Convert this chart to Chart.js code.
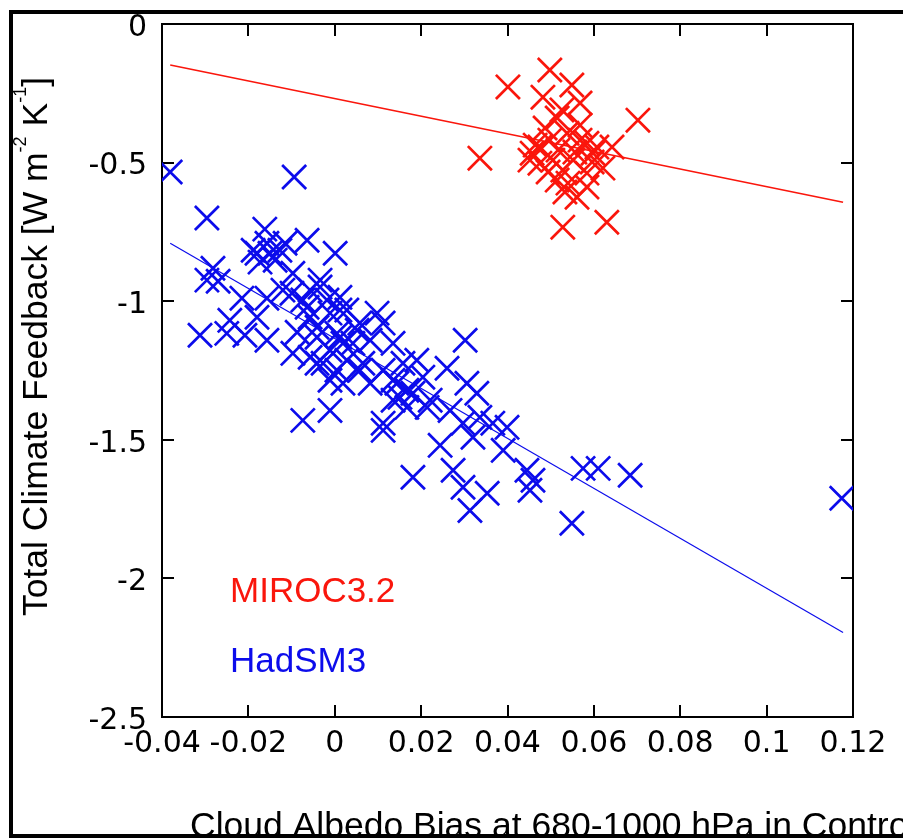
<!DOCTYPE html>
<html><head><meta charset="utf-8">
<script src="https://cdn.jsdelivr.net/npm/chart.js@4"></script>
<style>
html,body{margin:0;padding:0;background:#fff;overflow:hidden;}
#wrap{position:relative;width:903px;height:838px;overflow:hidden;}
canvas{position:absolute;left:0;top:0;}
#frame{position:absolute;left:9px;top:10px;width:1000px;height:828px;box-sizing:border-box;border:4px solid #000;pointer-events:none;}
</style></head>
<body><div id="wrap"><canvas id="c" width="903" height="838"></canvas><div id="frame"></div></div>
<script>
// ---- data ----
const xTickValues = [-0.04, -0.02, 0, 0.02, 0.04, 0.06, 0.08, 0.1, 0.12];
const xTickLabels = ['-0.04', '-0.02', '0', '0.02', '0.04', '0.06', '0.08', '0.1', '0.12'];
const yTickValues = [-2.5, -2, -1.5, -1, -0.5, 0];
const yTickLabels = ['-2.5', '-2', '-1.5', '-1', '-0.5', '0'];

const seriesNames = ['MIROC3.2', 'HadSM3'];
const xTitle = 'Cloud Albedo Bias at 680-1000 hPa in Control';
const yTitleParts = [['Total Climate Feedback [W m', false], ['-2', true], [' K', false], ['-1', true], [']', false]];

const mirocX = [0.0401, 0.0498, 0.0549, 0.0482, 0.0568, 0.0526, 0.0515, 0.0702, 0.0336, 0.0457,
                0.0475, 0.0498, 0.0538, 0.0568, 0.0584, 0.0607, 0.0642, 0.0475, 0.0505, 0.0528,
                0.0552, 0.0584, 0.0515, 0.0540, 0.0561, 0.0584, 0.0528, 0.0630, 0.0452, 0.0598,
                0.0487, 0.0517, 0.0556, 0.0494, 0.0596, 0.0621, 0.0464, 0.0533, 0.0568];
const mirocY = [-0.227, -0.166, -0.220, -0.264, -0.285, -0.310, -0.339, -0.347, -0.484, -0.466,
                -0.444, -0.419, -0.394, -0.419, -0.430, -0.444, -0.444, -0.502, -0.491, -0.527,
                -0.491, -0.538, -0.563, -0.574, -0.625, -0.588, -0.733, -0.715, -0.491, -0.466,
                -0.375, -0.455, -0.462, -0.534, -0.498, -0.520, -0.437, -0.606, -0.365];

const hadX = [-0.0381, -0.0094, -0.0296, -0.0162, -0.0064, -0.0115, -0.0189, -0.0180, -0.0150, -0.0127,
              0.0001, -0.0173, -0.0138, -0.0282, -0.0296, -0.0270, -0.0215, -0.0157, -0.0099, -0.0057,
              -0.0034, -0.0018, 0.0012, -0.0064, -0.0243, -0.0180, -0.0312, -0.0250, -0.0208, -0.0087,
              -0.0041, 0.0012, 0.0042, -0.0120, -0.0074, -0.0057, -0.0011, 0.0028, 0.0052, 0.0098,
              -0.0041, -0.0011, 0.0019, -0.0041, 0.0005, 0.0065, 0.0112, 0.0158, 0.0190, 0.0144,
              0.0181, 0.0167, 0.0221, -0.0074, -0.0011, 0.0112, 0.0244, -0.0157, -0.0034, -0.0097,
              0.0012, 0.0058, 0.0005, 0.0082, -0.0157, -0.0097, -0.0057, -0.0027, 0.0028, 0.0058,
              -0.0011, 0.0019, 0.0082, 0.0135, 0.0167, 0.0135, 0.0260, 0.0302, 0.0267, 0.0306,
              0.0329, 0.0135, 0.0112, 0.0204, 0.0151, 0.0214, 0.0297, 0.0336, 0.0366, 0.0399,
              0.0320, 0.0390, 0.0112, 0.0181, 0.0274, 0.0297, 0.0353, 0.0313, 0.0445, 0.0459,
              0.0452, 0.0575, 0.0610, 0.0684, 0.0549, 0.1174];
const hadY = [-0.534, -0.552, -0.700, -0.740, -0.780, -0.791, -0.816, -0.827, -0.827, -0.816,
              -0.827, -0.859, -0.852, -0.881, -0.924, -0.928, -0.989, -0.989, -0.971, -0.960,
              -0.949, -0.996, -0.986, -1.022, -1.069, -1.058, -1.123, -1.116, -1.123, -1.112,
              -1.094, -1.130, -1.152, -0.960, -0.996, -1.058, -1.043, -1.032, -1.105, -1.043,
              -1.130, -1.177, -1.152, -1.224, -1.249, -1.224, -1.249, -1.224, -1.213, -1.296,
              -1.332, -1.383, -1.357, -1.430, -1.394, -1.440, -1.520, -0.791, -0.924, -0.899,
              -1.032, -1.079, -1.116, -1.141, -1.141, -1.188, -1.202, -1.224, -1.213, -1.249,
              -1.285, -1.296, -1.296, -1.285, -1.321, -1.357, -1.242, -1.141, -1.394, -1.296,
              -1.332, -1.152, -1.079, -1.274, -1.347, -1.383, -1.440, -1.419, -1.440, -1.455,
              -1.491, -1.538, -1.466, -1.635, -1.610, -1.671, -1.693, -1.755, -1.610, -1.646,
              -1.682, -1.603, -1.603, -1.628, -1.801, -1.711];

const mirocFitX = [-0.0381, 0.1177];
const mirocFitY = [-0.148, -0.643];
const hadFitX = [-0.0381, 0.1177];
const hadFitY = [-0.791, -2.195];

// ---- styles ----
const RED = 'rgb(250,22,12)';
const BLUE = 'rgb(12,12,235)';
const tickFont = { family: '"DejaVu Sans", sans-serif', size: 30 };
const textFamily = '"Liberation Sans", Arial, Helvetica, sans-serif';

const pts = (xs, ys) => xs.map((x, i) => ({ x: x, y: ys[i] }));

const textPlugin = {
  id: 'texts',
  afterDraw(chart) {
    const ctx = chart.ctx;
    const a = chart.chartArea;
    ctx.save();
    ctx.fillStyle = '#000';
    ctx.textAlign = 'left';
    ctx.textBaseline = 'alphabetic';
    ctx.font = '35.5px ' + textFamily;
    ctx.fillText(xTitle, 190, 837);
    ctx.save();
    ctx.translate(47, 616);
    ctx.rotate(-Math.PI / 2);
    let pos = 0;
    yTitleParts.forEach(([t, sup]) => {
      ctx.font = (sup ? '18px ' : '35.5px ') + textFamily;
      ctx.fillText(t, pos, sup ? -21 : 0);
      pos += ctx.measureText(t).width;
    });
    ctx.restore();
    ctx.font = '35px ' + textFamily;
    ctx.fillStyle = RED;
    ctx.fillText(seriesNames[0], a.left + 68, 602);
    ctx.fillStyle = BLUE;
    ctx.fillText(seriesNames[1], a.left + 68, 672);
    ctx.restore();
  }
};

const noPad = s => { s.paddingTop = 0; s.paddingBottom = 0; s.paddingLeft = 0; s.paddingRight = 0; };

const axisCommon = (vals) => ({
  type: 'linear',
  afterBuildTicks: s => { s.ticks = vals.map(v => ({ value: v })); },
  grid: { drawOnChartArea: false, drawTicks: true, tickLength: -12, color: '#000', lineWidth: 2 },
  border: { color: '#000', width: 2 }
});

new Chart(document.getElementById('c'), {
  type: 'scatter',
  data: {
    datasets: [
      { label: seriesNames[0], data: pts(mirocX, mirocY), pointStyle: 'crossRot', pointRadius: 17,
        borderColor: RED, backgroundColor: 'rgba(0,0,0,0)', borderWidth: 2.7, pointBorderWidth: 2.7, showLine: false },
      { label: seriesNames[1], data: pts(hadX, hadY), pointStyle: 'crossRot', pointRadius: 17,
        borderColor: BLUE, backgroundColor: 'rgba(0,0,0,0)', borderWidth: 2.7, pointBorderWidth: 2.7, showLine: false },
      { label: seriesNames[0] + ' fit', data: pts(mirocFitX, mirocFitY), showLine: true, pointRadius: 0,
        borderColor: RED, borderWidth: 1.6, fill: false },
      { label: seriesNames[1] + ' fit', data: pts(hadFitX, hadFitY), showLine: true, pointRadius: 0,
        borderColor: BLUE, borderWidth: 1.2, fill: false }
    ]
  },
  options: {
    responsive: false,
    animation: false,
    devicePixelRatio: 1,
    layout: { padding: { left: 0, top: 24, right: 50, bottom: 0 } },
    plugins: { legend: { display: false }, tooltip: { enabled: false }, title: { display: false } },
    scales: {
      x: Object.assign(axisCommon(xTickValues), {
        position: 'bottom', min: -0.04, max: 0.12,
        ticks: { callback: (v, i) => xTickLabels[i], color: '#000', font: tickFont, padding: 21,
                 maxRotation: 0, autoSkip: false },
        afterFit: s => { s.height = 121; noPad(s); }
      }),
      x2: Object.assign(axisCommon(xTickValues), {
        position: 'top', min: -0.04, max: 0.12,
        ticks: { display: false },
        afterFit: s => { s.height = 0; noPad(s); }
      }),
      y: Object.assign(axisCommon(yTickValues), {
        position: 'left', min: -2.5, max: 0,
        ticks: { callback: (v, i) => yTickLabels[i], color: '#000', font: tickFont, padding: 27,
                 labelOffset: 4, autoSkip: false },
        afterFit: s => { s.width = 162; noPad(s); }
      }),
      y2: Object.assign(axisCommon(yTickValues), {
        position: 'right', min: -2.5, max: 0,
        ticks: { display: false },
        afterFit: s => { s.width = 0; noPad(s); }
      })
    }
  },
  plugins: [textPlugin]
});
</script>
</body></html>
